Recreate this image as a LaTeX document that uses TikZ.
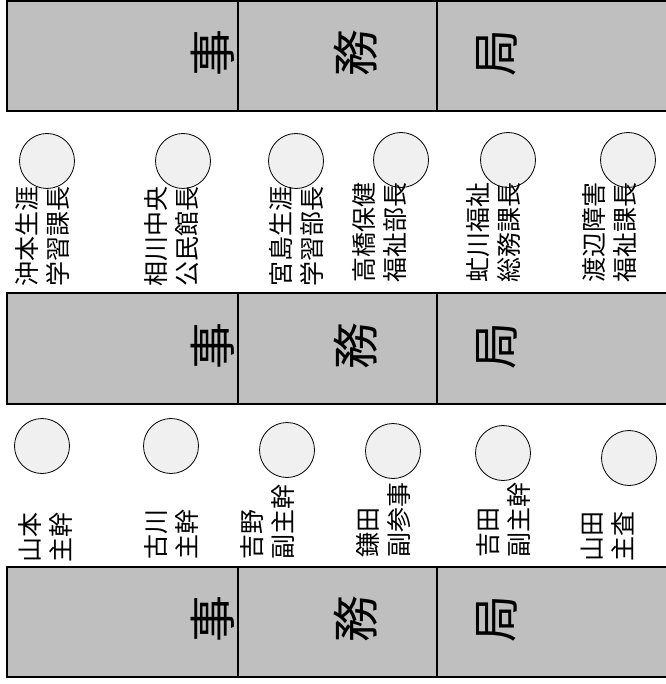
\documentclass[tikz,border=0pt]{standalone}
\usepackage{fontspec}
\newfontfamily\jpfont{Noto Sans CJK JP}
\usepackage{tikz}
\usetikzlibrary{positioning}
\usepackage{xcolor}
\definecolor{boxgray}{HTML}{BFBFBF}
\definecolor{seatgray}{HTML}{F0F0F0}

\begin{document}
\begin{tikzpicture}[x=1pt,y=-1pt,
  office/.style={draw=black,line width=2.6pt,fill=boxgray},
  wall/.style={draw=black,line width=2pt},
  kanji/.style={rotate=90,inner sep=0pt,font=\jpfont\fontsize{47}{47}\selectfont},
  seat/.style={circle,draw=black,line width=0.8pt,fill=seatgray,minimum size=55pt,inner sep=0pt},
  post/.style={rotate=90,anchor=west,align=left,inner sep=0pt,font=\jpfont\fontsize{25}{31}\selectfont}]
\useasboundingbox (0,0) rectangle (665,684);
% top office
\draw[office] (7,1) rectangle (700,111);
\draw[wall] (238,1) -- (238,111);
\draw[wall] (437,1) -- (437,111);
\node[kanji] (ji1) at (213,53) {事};
\node[kanji] (mu1) at (356,53) {務};
\node[kanji] (kyoku1) at (497,53) {局};
% upper seats
\node[seat] (oki) at (47,161) {};
\node[seat] (aikawa) at (183,161) {};
\node[seat] (miya) at (296,161) {};
\node[seat] (taka) at (401,160) {};
\node[seat] (abu) at (508,160) {};
\node[seat] (wata) at (628,160) {};
\node[post] (okiname) at (43,287) {沖本生涯\\学習課長};
\node[post] (aikawaname) at (172,287) {相川中央\\公民館長};
\node[post] (miyaname) at (296,287) {宮島生涯\\学習部長};
\node[post] (takaname) at (380,283) {高橋保健\\福祉部長};
\node[post] (abuname) at (494,283) {虻川福祉\\総務課長};
\node[post] (wataname) at (610,283) {渡辺障害\\福祉課長};
% middle office
\draw[office] (7,293) rectangle (700,404);
\draw[wall] (238,293) -- (238,404);
\draw[wall] (437,293) -- (437,404);
\node[kanji] (ji2) at (213,346) {事};
\node[kanji] (mu2) at (356,346) {務};
\node[kanji] (kyoku2) at (497,346) {局};
% lower seats
\node[seat] (yamamoto) at (42,446) {};
\node[seat] (furukawa) at (171,446) {};
\node[seat] (yoshino) at (287,450) {};
\node[seat] (kamata) at (393,451) {};
\node[seat] (yoshida) at (503,453) {};
\node[seat] (yamada) at (629,458) {};
\node[post] (yamamotoname) at (46,563) {山本\\主幹};
\node[post] (furukawaname) at (171,560) {古川\\主幹};
\node[post] (yoshinoname) at (268,560) {吉野\\副主幹};
\node[post] (kamataname) at (384,558) {鎌田\\副参事};
\node[post] (yoshidaname) at (504,558) {吉田\\副主幹};
\node[post] (yamadaname) at (607,562) {山田\\主査};
% bottom office
\draw[office] (7,567) rectangle (700,677);
\draw[wall] (238,567) -- (238,677);
\draw[wall] (437,567) -- (437,677);
\node[kanji] (ji3) at (213,619) {事};
\node[kanji] (mu3) at (356,619) {務};
\node[kanji] (kyoku3) at (497,619) {局};
\end{tikzpicture}
\end{document}
